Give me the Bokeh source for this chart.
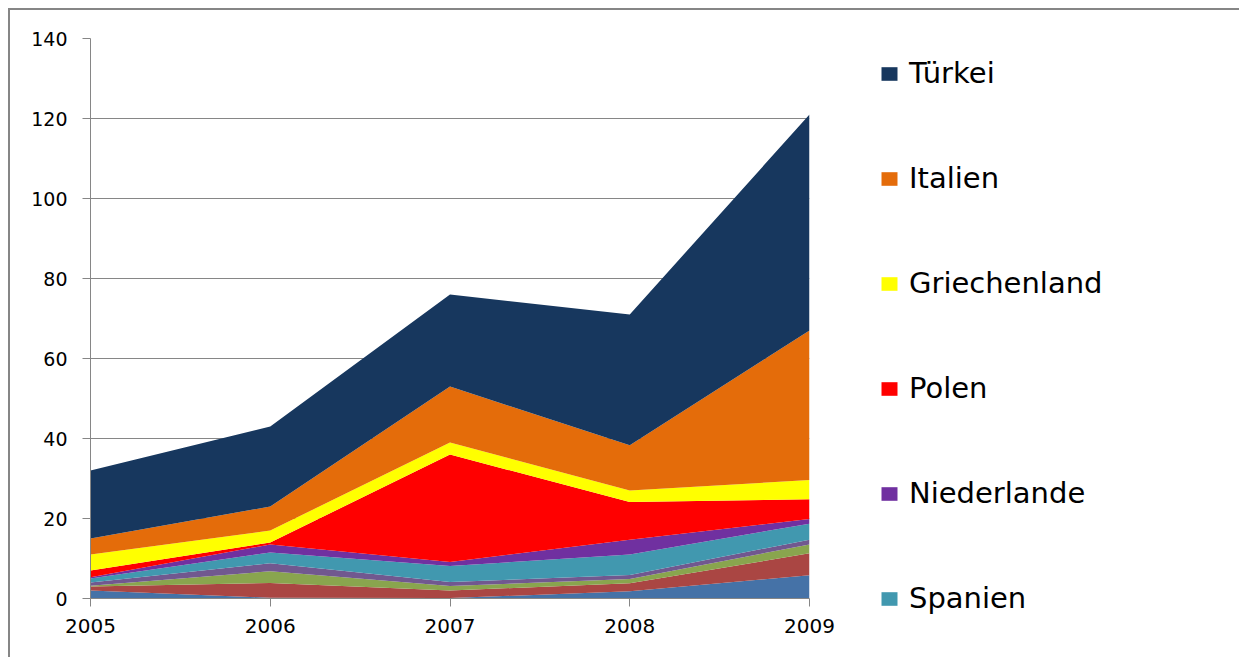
from bokeh.plotting import figure
from bokeh.models import ColumnDataSource, Legend, LegendItem, FixedTicker, Range1d
from bokeh.embed import file_html
from bokeh.resources import INLINE

years = [2005, 2006, 2007, 2008, 2009]
year_labels = ["2005", "2006", "2007", "2008", "2009"]
y_ticks = [0, 20, 40, 60, 80, 100, 120, 140]

# series, bottom to top (the four lowest are not named in the visible legend)
land_a = [2.0, 0.2, 0.1, 1.8, 5.8]
land_b = [1.0, 3.7, 1.9, 2.0, 5.5]
land_c = [0.2, 2.9, 1.1, 1.1, 2.2]
land_d = [0.8, 2.0, 1.0, 1.0, 1.2]
spanien = [1.0, 2.7, 4.0, 5.1, 4.0]
niederlande = [0.3, 2.0, 1.0, 3.7, 1.2]
polen = [1.7, 0.5, 26.9, 9.4, 4.9]
griechenland = [4.0, 3.0, 3.0, 2.9, 4.8]
italien = [4.0, 6.0, 14.0, 11.3, 37.4]
tuerkei = [17.0, 20.0, 23.0, 32.7, 54.0]

names = ["Land A", "Land B", "Land C", "Land D", "Spanien", "Niederlande",
         "Polen", "Griechenland", "Italien", "Türkei"]
values = [land_a, land_b, land_c, land_d, spanien, niederlande,
          polen, griechenland, italien, tuerkei]
colors = ["#4572A7", "#AA4643", "#89A54E", "#71588F", "#4198AF", "#7030A0",
          "#FF0000", "#FFFF00", "#E46C0A", "#17375E"]
legend_names = ["Türkei", "Italien", "Griechenland", "Polen", "Niederlande", "Spanien"]

data = {"year": years}
for n, v in zip(names, values):
    data[n] = v
source = ColumnDataSource(data)

p = figure(frame_width=719, frame_height=560, output_backend="svg", toolbar_location=None,
           x_range=Range1d(2005, 2009), y_range=Range1d(0, 140),
           min_border_left=80, min_border_top=28, min_border_bottom=59,
           min_border_right=0)
p.styles = {"margin-left": "8px", "margin-top": "8px",
            "border-top": "2px solid #868686", "border-left": "2px solid #868686"}

renderers = p.varea_stack(stackers=names, x="year", color=colors, source=source)

p.outline_line_color = None
p.xgrid.grid_line_color = None
p.ygrid.grid_line_color = "#868686"
p.ygrid.grid_line_width = 1
p.ygrid.ticker = FixedTicker(ticks=y_ticks)
p.ygrid.level = "underlay"

p.yaxis.ticker = FixedTicker(ticks=y_ticks)
p.xaxis.ticker = FixedTicker(ticks=years)
p.xaxis.major_label_overrides = {y: l for y, l in zip(years, year_labels)}
for ax in (p.xaxis[0], p.yaxis[0]):
    ax.axis_line_color = "#868686"
    ax.major_tick_line_color = "#868686"
    ax.minor_tick_line_color = None
    ax.major_tick_in = 0
    ax.major_tick_out = 8
    ax.major_label_text_font = "DejaVu Sans"
    ax.major_label_text_color = "black"
p.yaxis.major_label_text_font_size = "19px"
p.xaxis.major_label_text_font_size = "20px"
p.yaxis.major_label_standoff = 15
p.xaxis.major_label_standoff = 12

by_name = dict(zip(names, renderers))
items = [LegendItem(label=n, renderers=[by_name[n]]) for n in legend_names]
legend = Legend(items=items, location=(70, -17), orientation="vertical",
                padding=0, margin=0, spacing=71, label_height=30,
                glyph_width=20, glyph_height=17, label_standoff=10,
                label_text_font="DejaVu Sans", label_text_font_size="29px",
                label_text_color="black", border_line_color=None,
                background_fill_alpha=0)
p.add_layout(legend, "right")

open("out.html", "w").write(file_html(p, INLINE))
